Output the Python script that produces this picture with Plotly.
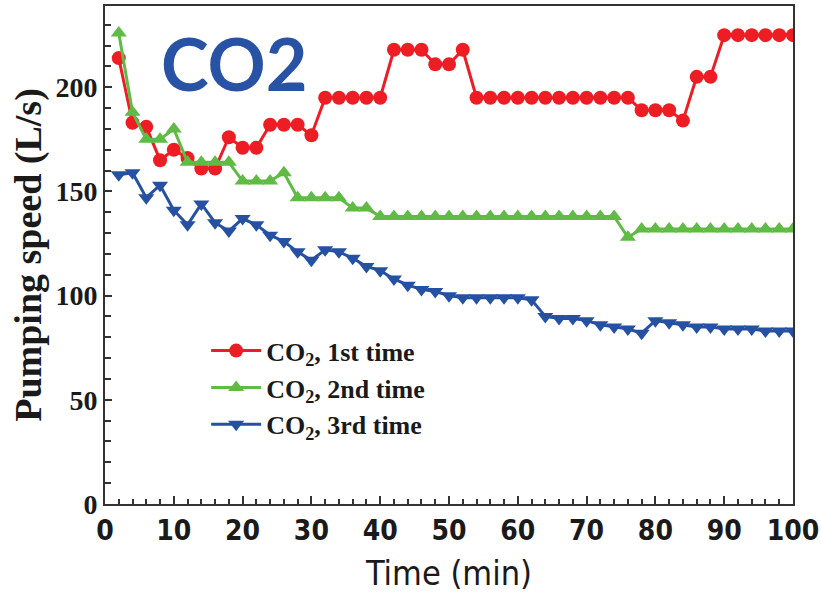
import plotly.graph_objects as go

# Sampling times (min)
time_min = [2, 4, 6, 8, 10, 12, 14, 16, 18, 20,
            22, 24, 26, 28, 30, 32, 34, 36, 38, 40,
            42, 44, 46, 48, 50, 52, 54, 56, 58, 60,
            62, 64, 66, 68, 70, 72, 74, 76, 78, 80,
            82, 84, 86, 88, 90, 92, 94, 96, 98, 100]

# Pumping speed (L/s) for each CO2 run
speed_run1 = [214, 183, 181, 165, 170, 166, 161, 161, 176, 171,
              171, 182, 182, 182, 177, 195, 195, 195, 195, 195,
              218, 218, 218, 211, 211, 218, 195, 195, 195, 195,
              195, 195, 195, 195, 195, 195, 195, 195, 189, 189,
              189, 184, 205, 205, 225, 225, 225, 225, 225, 225]
speed_run2 = [226, 188, 175, 175, 180, 164, 164, 164, 164, 155,
              155, 155, 159, 147, 147, 147, 147, 142, 142, 138,
              138, 138, 138, 138, 138, 138, 138, 138, 138, 138,
              138, 138, 138, 138, 138, 138, 138, 128, 132, 132,
              132, 132, 132, 132, 132, 132, 132, 132, 132, 132]
speed_run3 = [158, 159, 147, 153, 141, 134, 144, 135, 131, 137,
              134, 129, 126, 121, 117, 122, 121, 118, 114, 112,
              108, 105, 103, 102, 100, 99, 99, 99, 99, 99,
              98, 90, 89, 89, 88, 86, 85, 84, 82, 88,
              87, 86, 85, 85, 84, 84, 84, 83, 83, 83]

series_names = ["CO<sub>2</sub>, 1st time", "CO<sub>2</sub>, 2nd time", "CO<sub>2</sub>, 3rd time"]
series_colors = ["#ee1d24", "#5fba46", "#2651a3"]
series_symbols = ["circle", "triangle-up", "triangle-down"]
series_values = [speed_run1, speed_run2, speed_run3]

fig = go.Figure()
for name, color, symbol, values in zip(series_names, series_colors, series_symbols, series_values):
    fig.add_trace(go.Scatter(
        x=time_min, y=values, name=name, mode="lines+markers",
        line=dict(color=color, width=3),
        marker=dict(color=color, symbol=symbol, size=14, line=dict(width=0)),
    ))

serif = "Liberation Serif, Times New Roman, serif"
narrow = "Liberation Sans Narrow, DejaVu Sans Condensed, Arial Narrow, Liberation Sans, sans-serif"
axis_color = "#333333"

fig.update_layout(
    width=821, height=595,
    margin=dict(l=105, r=28, t=6, b=91),
    plot_bgcolor="white", paper_bgcolor="white",
    showlegend=True,
    legend=dict(
        x=0.147, y=0.355, xanchor="left", yanchor="top",
        bgcolor="rgba(0,0,0,0)", itemwidth=50, tracegroupgap=0,
        font=dict(family=serif, size=26, color="#1a1a1a", weight="bold"),
    ),
    annotations=[dict(
        text="<b>CO2</b>", x=0.187, y=0.885, xref="paper", yref="paper",
        xanchor="center", yanchor="middle", showarrow=False,
        font=dict(family="Lato, Open Sans, sans-serif", size=72, color="#2852a4"),
    )],
)

fig.update_xaxes(
    range=[0, 100], dtick=10, tick0=0, automargin=False,
    showgrid=False, zeroline=False,
    showline=True, linecolor=axis_color, linewidth=2, mirror=True,
    ticks="inside", ticklen=8, tickwidth=1.5, tickcolor=axis_color,
    minor=dict(ticks="inside", dtick=2, ticklen=5, tickwidth=1.5, tickcolor=axis_color),
    ticklabeloverflow="allow",
    tickfont=dict(family=narrow, size=28, color="#1a1a1a", weight="bold"),
    title=dict(text="Time (min)", font=dict(family=narrow, size=34, color="#1a1a1a"), standoff=16),
)
fig.update_yaxes(
    range=[0, 239], dtick=50, tick0=0,
    showgrid=False, zeroline=False,
    showline=True, linecolor=axis_color, linewidth=2, mirror=True,
    ticks="inside", ticklen=7, tickwidth=1.5, tickcolor=axis_color,
    minor=dict(ticks="inside", dtick=10, ticklen=6, tickwidth=1.5, tickcolor=axis_color),
    tickfont=dict(family=serif, size=28, color="#1a1a1a", weight="bold"),
    title=dict(text="Pumping speed (L/s)", font=dict(family=serif, size=38, color="#1a1a1a", weight="bold"), standoff=2),
)

fig.write_html("out.html")
